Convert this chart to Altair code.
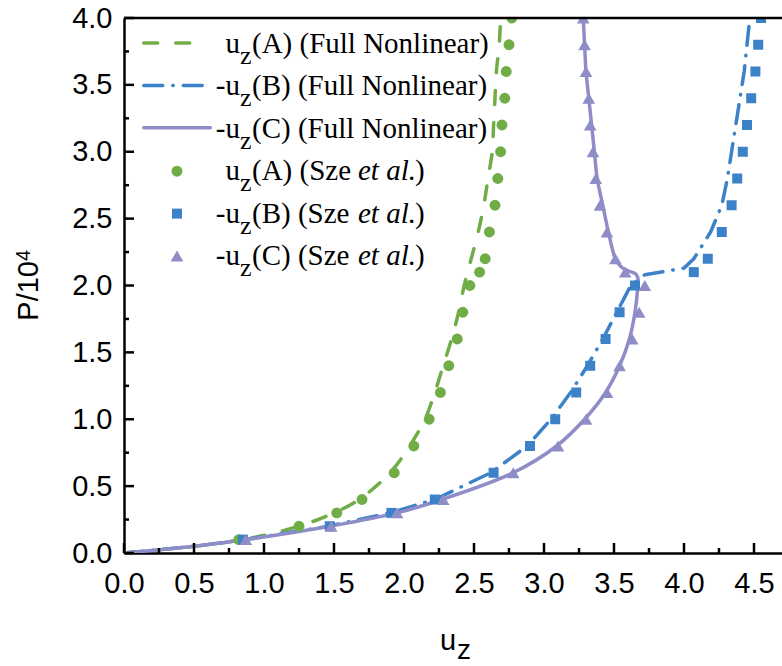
import altair as alt
import pandas as pd

# ---------------- data ----------------
# Full Nonlinear curves
A_line_x = [0.0, 0.5, 0.85, 1.25, 1.5, 1.68, 1.9, 2.04, 2.15, 2.22, 2.28, 2.34, 2.39, 2.43, 2.48, 2.53, 2.57, 2.60, 2.63, 2.64, 2.65, 2.66, 2.68, 2.69]
A_line_y = [0.0, 0.05, 0.1, 0.2, 0.3, 0.4, 0.6, 0.8, 1.0, 1.2, 1.4, 1.6, 1.8, 2.0, 2.2, 2.4, 2.6, 2.8, 3.0, 3.2, 3.4, 3.6, 3.8, 4.0]

B_line_x = [0.0, 0.5, 0.86, 1.46, 1.9, 2.22, 2.62, 2.88, 3.05, 3.19, 3.31, 3.42, 3.52, 3.62, 3.72, 4.0, 4.07, 4.19, 4.27, 4.31, 4.34, 4.37, 4.40, 4.43, 4.45, 4.47]
B_line_y = [0.0, 0.05, 0.1, 0.2, 0.3, 0.4, 0.6, 0.8, 1.0, 1.2, 1.4, 1.6, 1.8, 2.0, 2.08, 2.13, 2.2, 2.4, 2.6, 2.8, 3.0, 3.2, 3.4, 3.6, 3.8, 4.0]

C_line_x = [0.0, 0.5, 0.87, 1.47, 1.95, 2.27, 2.78, 3.09, 3.29, 3.44, 3.54, 3.61, 3.65, 3.67, 3.67, 3.65, 3.60, 3.55, 3.51, 3.46, 3.42, 3.38, 3.36, 3.34, 3.32, 3.30, 3.29, 3.28]
C_line_y = [0.0, 0.05, 0.1, 0.2, 0.3, 0.4, 0.6, 0.8, 1.0, 1.2, 1.4, 1.6, 1.8, 2.0, 2.06, 2.09, 2.11, 2.14, 2.2, 2.4, 2.6, 2.8, 3.0, 3.2, 3.4, 3.6, 3.8, 4.0]

# Sze et al. reference points
A_pts_x = [0.82, 1.25, 1.52, 1.70, 1.93, 2.07, 2.18, 2.26, 2.32, 2.38, 2.42, 2.47, 2.54, 2.58, 2.61, 2.65, 2.67, 2.69, 2.70, 2.72, 2.73, 2.75, 2.77]
A_pts_y = [0.1, 0.2, 0.3, 0.4, 0.6, 0.8, 1.0, 1.2, 1.4, 1.6, 1.8, 2.0, 2.1, 2.2, 2.4, 2.6, 2.8, 3.0, 3.2, 3.4, 3.6, 3.8, 4.0]

B_pts_x = [0.85, 1.47, 1.91, 2.22, 2.64, 2.90, 3.08, 3.23, 3.33, 3.44, 3.54, 3.65, 4.07, 4.17, 4.27, 4.34, 4.38, 4.42, 4.45, 4.48, 4.51, 4.53, 4.55]
B_pts_y = [0.1, 0.2, 0.3, 0.4, 0.6, 0.8, 1.0, 1.2, 1.4, 1.6, 1.8, 2.0, 2.1, 2.2, 2.4, 2.6, 2.8, 3.0, 3.2, 3.4, 3.6, 3.8, 4.0]

C_pts_x = [0.87, 1.48, 1.95, 2.28, 2.78, 3.10, 3.30, 3.45, 3.54, 3.63, 3.68, 3.72, 3.58, 3.51, 3.45, 3.40, 3.37, 3.35, 3.33, 3.32, 3.30, 3.29, 3.28]
C_pts_y = [0.1, 0.2, 0.3, 0.4, 0.6, 0.8, 1.0, 1.2, 1.4, 1.6, 1.8, 2.0, 2.1, 2.2, 2.4, 2.6, 2.8, 3.0, 3.2, 3.4, 3.6, 3.8, 4.0]

x_ticks = [0.0, 0.5, 1.0, 1.5, 2.0, 2.5, 3.0, 3.5, 4.0, 4.5]
x_minor = [0.25, 0.75, 1.25, 1.75, 2.25, 2.75, 3.25, 3.75, 4.25]
y_ticks = [0.0, 0.5, 1.0, 1.5, 2.0, 2.5, 3.0, 3.5, 4.0]
y_minor = [0.25, 0.75, 1.25, 1.75, 2.25, 2.75, 3.25, 3.75]

legend_prefix = ["u", "-u", "-u", "u", "-u", "-u"]
legend_rest = ["(A) (Full Nonlinear)", "(B) (Full Nonlinear)", "(C) (Full Nonlinear)",
               "(A) (Sze", "(B) (Sze", "(C) (Sze"]

GREEN, BLUE, PURPLE = "#70AD47", "#3B82C8", "#8F8DC8"

# ---------------- layout ----------------
W, H = 658, 535
LEFT, TOP = 124, 18
xs = alt.Scale(domain=[0, 4.7], nice=False, zero=False)
ys = alt.Scale(domain=[0, 4.0], nice=False, zero=False)
XAX = alt.Axis(values=x_ticks, format=".1f", title=None, ticks=False, tickSize=0, grid=False,
               labelFont="Liberation Sans", labelFontSize=29, labelColor="black",
               labelPadding=16, labelFlush=False, domainColor="black", domainWidth=2.5)
YAX = alt.Axis(values=y_ticks, format=".1f", title=None, ticks=False, tickSize=0, grid=False,
               labelFont="Liberation Sans", labelFontSize=29, labelColor="black",
               labelPadding=12, labelFlush=False, domainColor="black", domainWidth=2.5)


def X():
    return alt.X("x:Q", scale=xs, axis=XAX)


def Y():
    return alt.Y("y:Q", scale=ys, axis=YAX)


def line_df(xv, yv):
    return pd.DataFrame({"x": xv, "y": yv, "i": list(range(len(xv)))})


layers = []
# lines
for xv, yv, col, dash, interp in [(A_line_x, A_line_y, GREEN, [14, 18], "catmull-rom"),
                                  (B_line_x, B_line_y, BLUE, [19, 10, 0.5, 10], "linear"),
                                  (C_line_x, C_line_y, PURPLE, None, "catmull-rom")]:
    kw = dict(color=col, strokeWidth=3.5, clip=True, strokeCap="round", strokeJoin="round",
              interpolate=interp)
    if dash:
        kw["strokeDash"] = dash
    layers.append(alt.Chart(line_df(xv, yv)).mark_line(**kw).encode(x=X(), y=Y(), order="i:Q"))

# points
for xv, yv, col, shape, size in [(A_pts_x, A_pts_y, GREEN, "circle", 120),
                                 (B_pts_x, B_pts_y, BLUE, "square", 100),
                                 (C_pts_x, C_pts_y, PURPLE, "triangle-up", 160)]:
    layers.append(alt.Chart(pd.DataFrame({"x": xv, "y": yv})).mark_point(
        shape=shape, filled=True, opacity=1, size=size, color=col, clip=True).encode(x=X(), y=Y()))

# inward ticks
layers.append(alt.Chart(pd.DataFrame({"x": x_ticks})).mark_rule(color="black", strokeWidth=2.5).encode(
    x=X(), y=alt.value(H), y2=alt.value(H - 10)))
layers.append(alt.Chart(pd.DataFrame({"x": x_minor})).mark_rule(color="black", strokeWidth=2.5).encode(
    x=X(), y=alt.value(H), y2=alt.value(H - 5)))
layers.append(alt.Chart(pd.DataFrame({"y": y_ticks})).mark_rule(color="black", strokeWidth=2.5).encode(
    y=Y(), x=alt.value(0), x2=alt.value(10)))
layers.append(alt.Chart(pd.DataFrame({"y": y_minor})).mark_rule(color="black", strokeWidth=2.5).encode(
    y=Y(), x=alt.value(0), x2=alt.value(5)))

one = pd.DataFrame({"a": [0]})
# top frame
layers.append(alt.Chart(one).mark_rule(color="black", strokeWidth=2.5).encode(
    x=alt.value(0), x2=alt.value(W), y=alt.value(0)))


def txt(s, x, y, size=29, font="Liberation Serif", style="normal", align="left", angle=0):
    return alt.Chart(one).mark_text(text=s, align=align, baseline="alphabetic", font=font,
                                    fontSize=size, fontStyle=style, color="black",
                                    angle=angle).encode(x=alt.value(x), y=alt.value(y))


# legend
row_base = [53 + 42.4 * k - TOP for k in range(6)]
sample_x0 = 142 - LEFT
sample_x1 = [195 - LEFT, 205 - LEFT, 212 - LEFT]
for k, (col, dash) in enumerate([(GREEN, [14, 18]), (BLUE, [19, 10, 0.5, 10]), (PURPLE, None)]):
    kw = dict(color=col, strokeWidth=3.5, strokeCap="round")
    if dash:
        kw["strokeDash"] = dash
    layers.append(alt.Chart(one).mark_rule(**kw).encode(
        x=alt.value(sample_x0 + 1.75), x2=alt.value(sample_x1[k] - 1.75), y=alt.value(row_base[k] - 10)))
for k, (col, shape, size) in enumerate([(GREEN, "circle", 120), (BLUE, "square", 100),
                                        (PURPLE, "triangle-up", 160)]):
    layers.append(alt.Chart(one).mark_point(shape=shape, filled=True, opacity=1, size=size, color=col).encode(
        x=alt.value(177 - LEFT), y=alt.value(row_base[k + 3] - 9)))
for k in range(6):
    yb = row_base[k]
    layers.append(txt(legend_prefix[k], 240 - LEFT, yb, align="right"))
    layers.append(txt("z", 240 - LEFT, yb + 11, size=26))
    layers.append(txt(legend_rest[k], 252 - LEFT, yb))
    if k >= 3:
        layers.append(txt("et al.", 358 - LEFT, yb, style="italic"))
        layers.append(txt(")", 415 - LEFT, yb))

# axis titles
layers.append(txt("u", 440 - LEFT, 650 - TOP, size=29, font="Liberation Sans"))
layers.append(txt("z", 457 - LEFT, 659 - TOP, size=28, font="Liberation Sans"))
layers.append(txt("P/10", 38 - LEFT, 261 - TOP, size=29, font="Liberation Sans", align="right", angle=270))
layers.append(txt("4", 30 - LEFT, 261 - TOP, size=20, font="Liberation Sans", align="left", angle=270))

chart = alt.layer(*layers).properties(
    width=W, height=H,
    autosize=alt.AutoSizeParams(type="none"),
    padding={"left": LEFT, "top": TOP, "right": 0, "bottom": 666 - TOP - H},
    background="white",
).configure_view(stroke=None)

chart.save("out.html", embed_options={"renderer": "svg", "actions": False})
